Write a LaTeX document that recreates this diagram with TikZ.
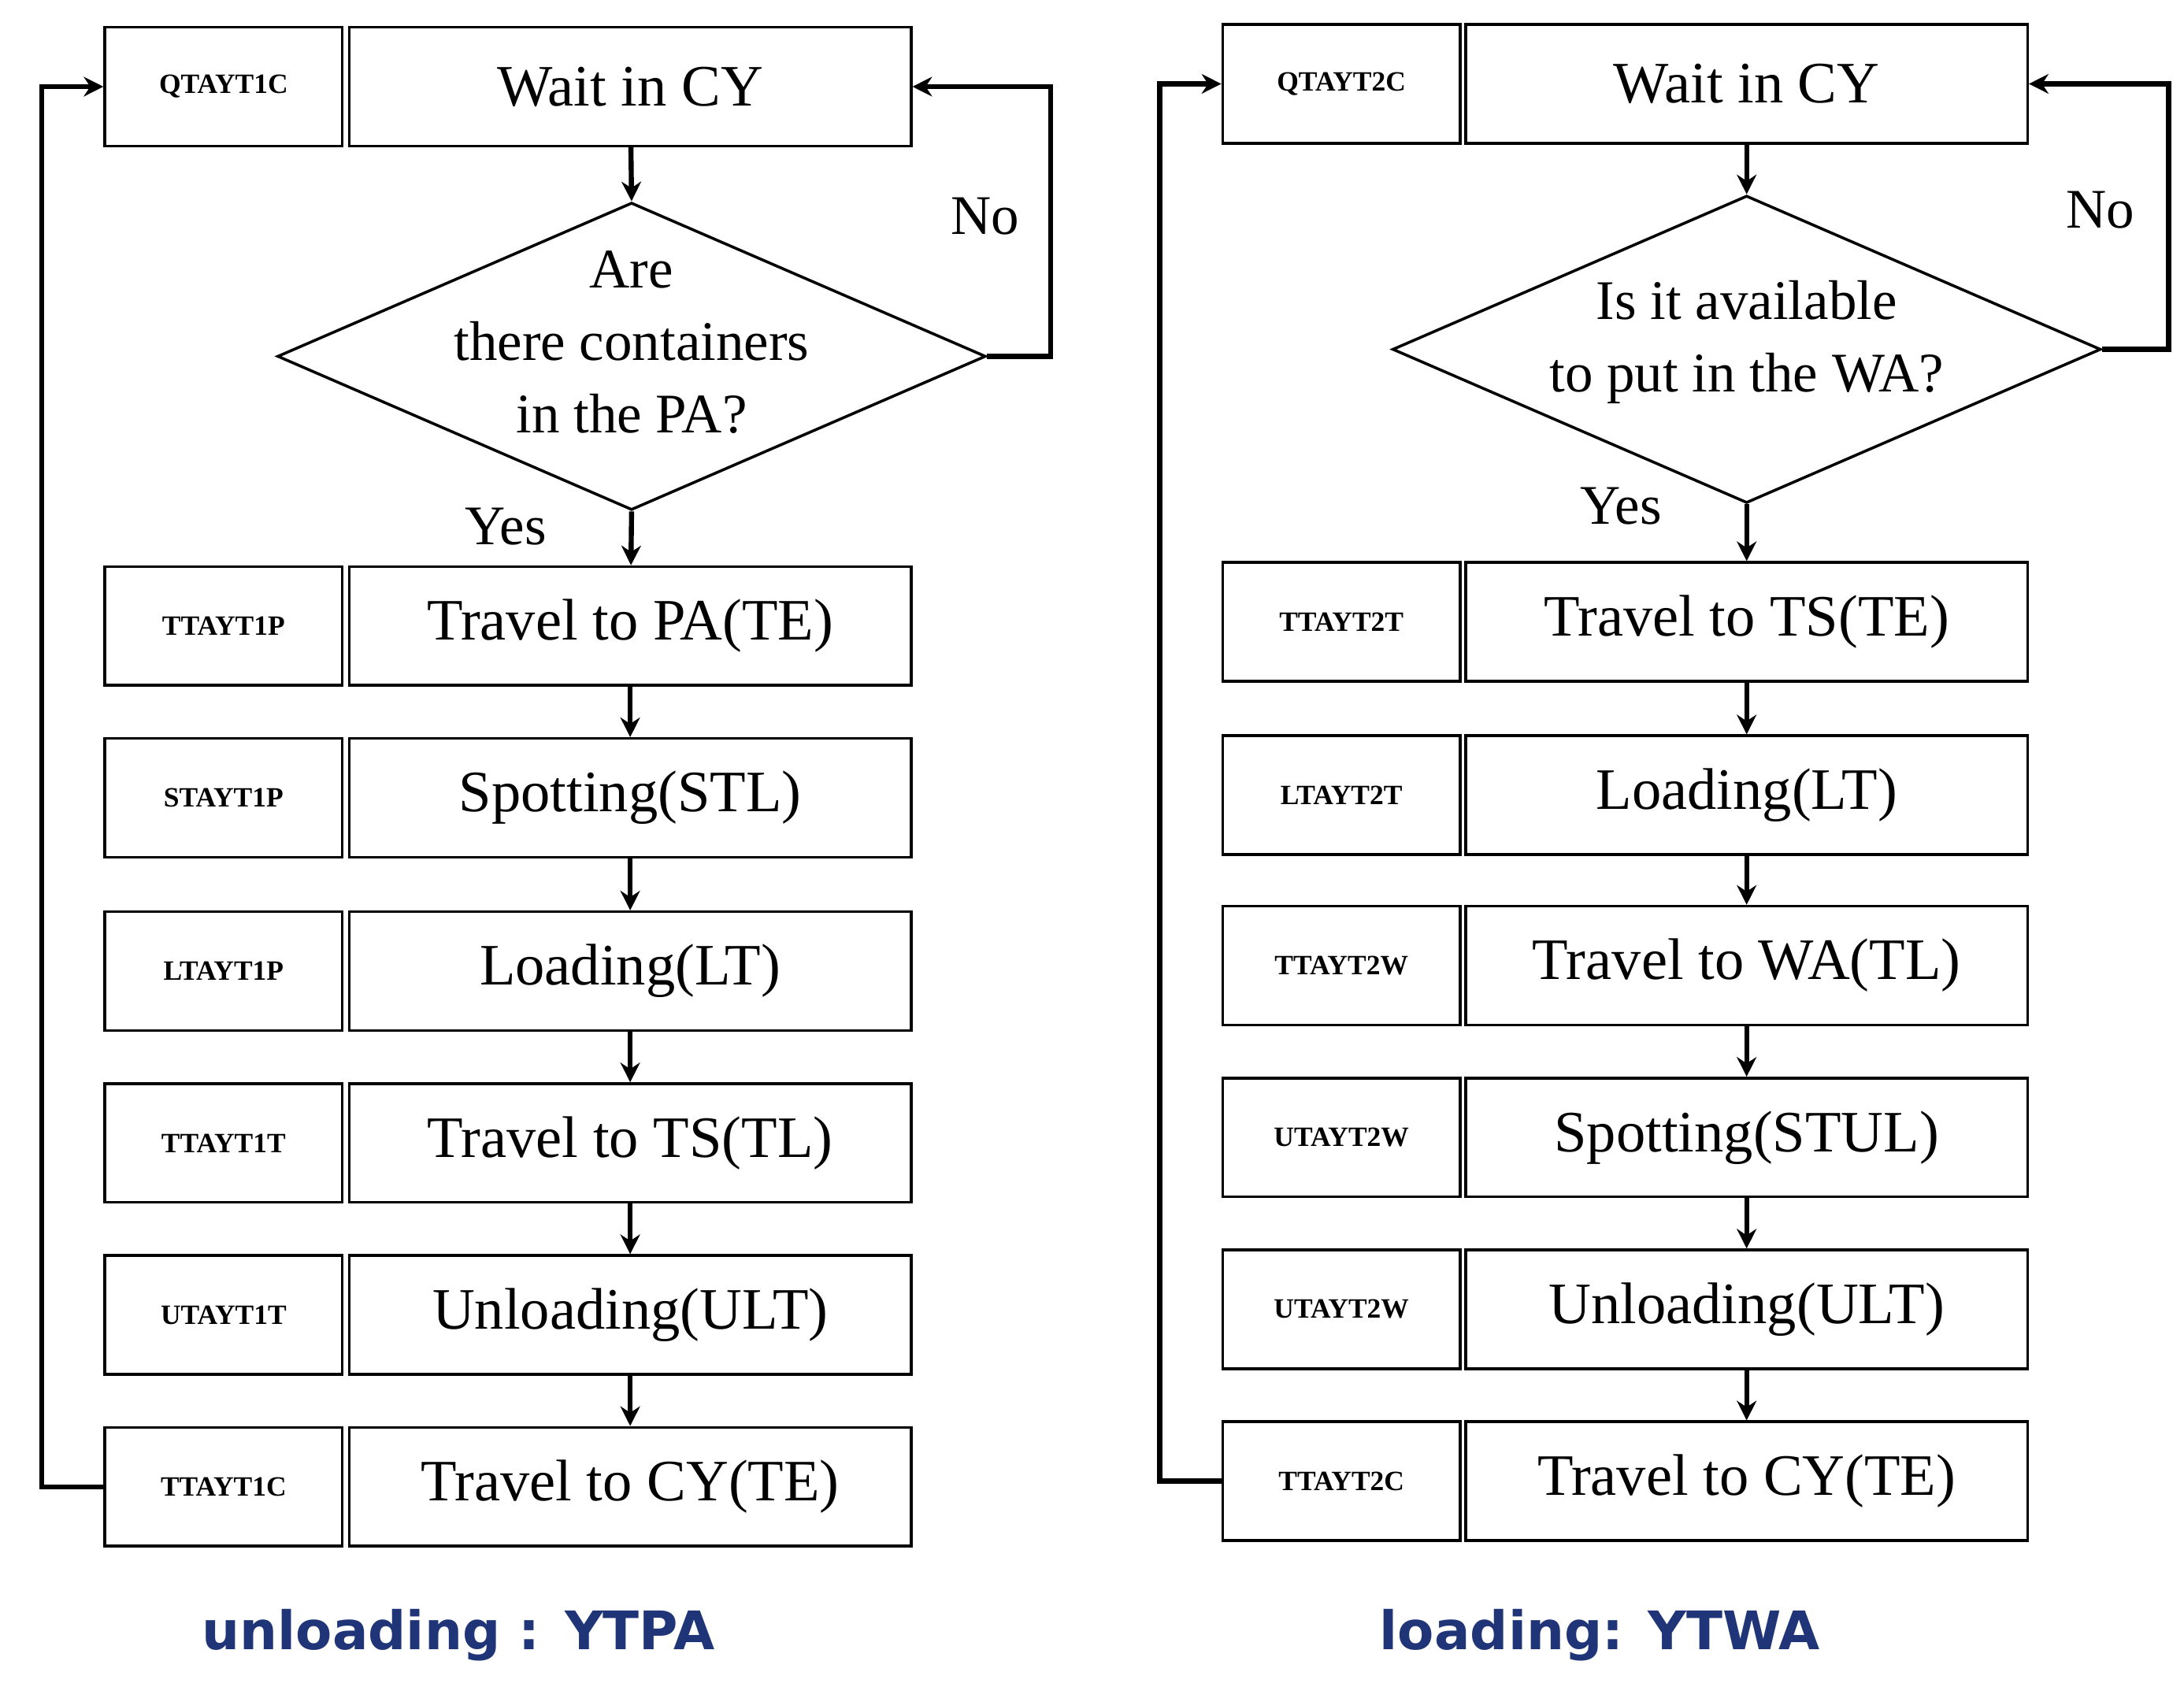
\documentclass[tikz,border=0pt]{standalone}
\usepackage{fontspec}
\setmainfont{Liberation Serif}
\newfontfamily\capfont{DejaVu Sans}
\usetikzlibrary{shapes.geometric,arrows.meta}
\definecolor{capblue}{HTML}{1F3578}
\begin{document}
\begin{tikzpicture}[x=0.5pt,y=-0.5pt,
  code/.style={draw,line width=1pt,minimum width=85pt,minimum height=42.5pt,inner sep=0pt,font=\bfseries\fontsize{10}{12}\selectfont},
  main/.style={draw,line width=1pt,minimum width=201pt,minimum height=42.5pt,inner sep=0pt,font=\fontsize{21}{24}\selectfont},
  dia/.style={draw,diamond,line width=1pt,minimum width=253.5pt,minimum height=110pt,inner sep=0pt},
  diatxt/.style={align=center,font=\fontsize{20}{26}\selectfont},
  lbl/.style={font=\fontsize{20}{24}\selectfont},
  arr/.style={line width=1.8pt,-{Stealth[length=7pt,width=7pt]}},
  captxt/.style={text=capblue,font=\capfont\bfseries\fontsize{19}{22}\selectfont}]
\useasboundingbox (0,0) rectangle (1563,1207);
% Left
\node[code] (lc0) at (160,62) {QTAYT1C};
\node[main] (lm0) at (451,62) {Wait in CY};
\node[dia] (ld) at (452,255) {};
\node[diatxt] (ldt) at (452,245) {Are\\there containers\\in the PA?};
\node[code] (lc1) at (160,448) {TTAYT1P};
\node[main] (lm1) at (451,448) {Travel to PA(TE)};
\node[code] (lc2) at (160,571) {STAYT1P};
\node[main] (lm2) at (451,571) {Spotting(STL)};
\node[code] (lc3) at (160,695) {LTAYT1P};
\node[main] (lm3) at (451,695) {Loading(LT)};
\node[code] (lc4) at (160,818) {TTAYT1T};
\node[main] (lm4) at (451,818) {Travel to TS(TL)};
\node[code] (lc5) at (160,941) {UTAYT1T};
\node[main] (lm5) at (451,941) {Unloading(ULT)};
\node[code] (lc6) at (160,1064) {TTAYT1C};
\node[main] (lm6) at (451,1064) {Travel to CY(TE)};
\draw[arr] (lm0) -- (ld.north);
\draw[arr] (ld.south) -- (lm1);
\foreach \a/\b in {1/2,2/3,3/4,4/5,5/6} \draw[arr] (lm\a) -- (lm\b);
\draw[arr] (ld.east) -- (752,255) -- (752,62) -- (lm0.east);
\draw[arr] (lc6.west) -- (30,1064) -- (30,62) -- (lc0.west);
\node[lbl] (lno) at (705,155) {No};
\node[lbl] (lyes) at (362,377) {Yes};
\node[captxt] (lcap) at (328,1170) {unloading : YTPA};
% Right
\node[code] (rc0) at (960,60) {QTAYT2C};
\node[main] (rm0) at (1250,60) {Wait in CY};
\node[dia] (rd) at (1250,250) {};
\node[diatxt] (rdt) at (1250,245) {Is it available\\to put in the WA?};
\node[code] (rc1) at (960,445) {TTAYT2T};
\node[main] (rm1) at (1250,445) {Travel to TS(TE)};
\node[code] (rc2) at (960,569) {LTAYT2T};
\node[main] (rm2) at (1250,569) {Loading(LT)};
\node[code] (rc3) at (960,691) {TTAYT2W};
\node[main] (rm3) at (1250,691) {Travel to WA(TL)};
\node[code] (rc4) at (960,814) {UTAYT2W};
\node[main] (rm4) at (1250,814) {Spotting(STUL)};
\node[code] (rc5) at (960,937) {UTAYT2W};
\node[main] (rm5) at (1250,937) {Unloading(ULT)};
\node[code] (rc6) at (960,1060) {TTAYT2C};
\node[main] (rm6) at (1250,1060) {Travel to CY(TE)};
\draw[arr] (rm0) -- (rd.north);
\draw[arr] (rd.south) -- (rm1);
\foreach \a/\b in {1/2,2/3,3/4,4/5,5/6} \draw[arr] (rm\a) -- (rm\b);
\draw[arr] (rd.east) -- (1552,250) -- (1552,60) -- (rm0.east);
\draw[arr] (rc6.west) -- (830,1060) -- (830,60) -- (rc0.west);
\node[lbl] (rno) at (1503,150) {No};
\node[lbl] (ryes) at (1160,362) {Yes};
\node[captxt] (rcap) at (1145,1170) {loading: YTWA};
\end{tikzpicture}
\end{document}
